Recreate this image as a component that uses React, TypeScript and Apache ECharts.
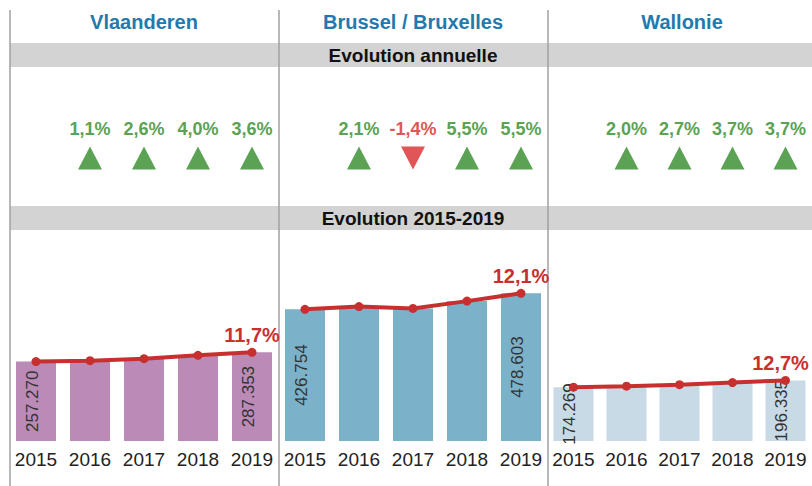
import React, { useEffect, useRef } from "react";
import * as echarts from "echarts";

const regions = ["Vlaanderen", "Brussel / Bruxelles", "Wallonie"];
const years = ["2015", "2016", "2017", "2018", "2019"];
const vlValues = [257270, 260100, 266860, 277540, 287353];
const bxValues = [426754, 435700, 429600, 453200, 478603];
const waValues = [174269, 177750, 182550, 189310, 196335];
const vlGrowth = [1.1, 2.6, 4.0, 3.6];
const bxGrowth = [2.1, -1.4, 5.5, 5.5];
const waGrowth = [2.0, 2.7, 3.7, 3.7];
const totalGrowth = [11.7, 12.1, 12.7];
const sectionTitles = ["Evolution annuelle", "Evolution 2015-2019"];

const barColors = ["#BC8AB6", "#7BB2CA", "#C7DAE6"];
const FONT = "'Liberation Sans', Arial, sans-serif";

const fmtPct = (v: number) => v.toFixed(1).replace(".", ",") + "%";
const fmtNum = (v: number) => {
  const s = Math.round(v).toString();
  return s.replace(/\B(?=(\d{3})+(?!\d))/g, ".");
};

export default function App() {
  const ref = useRef<HTMLDivElement>(null);
  useEffect(() => {
    document.body.style.margin = "0";
    const chart = echarts.init(ref.current!, null, { renderer: "svg" });
    const allValues = [vlValues, bxValues, waValues];
    const allGrowth = [vlGrowth, bxGrowth, waGrowth];
    const panelLeft = [9, 278, 547];
    const panelW = 270;
    const yMax = 648000;

    const grid: any[] = [];
    const xAxis: any[] = [];
    const yAxis: any[] = [];
    const series: any[] = [];

    allValues.forEach((vals, i) => {
      grid.push({ left: panelLeft[i], width: panelW, top: 241, height: 200 });
      grid.push({ left: panelLeft[i], width: panelW, top: 108, height: 100 });
      const gb = i * 2;
      const ga = i * 2 + 1;
      xAxis.push({
        type: "category",
        gridIndex: gb,
        data: years,
        axisLine: { show: false },
        axisTick: { show: false },
        axisLabel: { interval: 0, hideOverlap: false, color: "#222", fontSize: 19, fontFamily: FONT, margin: 9 },
      });
      xAxis.push({ type: "category", gridIndex: ga, data: years, show: false });
      yAxis.push({ type: "value", gridIndex: gb, min: 0, max: yMax, show: false });
      yAxis.push({ type: "value", gridIndex: ga, min: 0, max: 1, show: false });

      series.push({
        type: "bar",
        xAxisIndex: gb,
        yAxisIndex: gb,
        barWidth: 40,
        itemStyle: { color: barColors[i] },
        data: vals.map((v, k) => ({
          value: v,
          label: {
            show: k === 0 || k === vals.length - 1,
            position: "inside",
            rotate: 90,
            offset: [0, -4],
            formatter: () => fmtNum(v),
            color: "#333",
            fontSize: 17,
            fontFamily: FONT,
          },
        })),
      });
      series.push({
        type: "line",
        xAxisIndex: gb,
        yAxisIndex: gb,
        z: 5,
        symbol: "circle",
        symbolSize: 9,
        lineStyle: { color: "#C8302F", width: 4 },
        itemStyle: { color: "#C8302F" },
        data: vals.map((v, k) => ({
          value: v,
          label: {
            show: k === vals.length - 1,
            position: "top",
            distance: 3,
            offset: [i === 2 ? -5 : 0, 0],
            formatter: () => fmtPct(totalGrowth[i]),
            color: "#C8302F",
            fontSize: 20,
            fontWeight: "bold",
            fontFamily: FONT,
          },
        })),
      });
      series.push({
        type: "scatter",
        xAxisIndex: ga,
        yAxisIndex: ga,
        symbol: "triangle",
        symbolSize: [24, 23],
        data: [null, ...allGrowth[i]].map((g) =>
          g === null
            ? null
            : {
                value: 0.5,
                symbolRotate: g < 0 ? 180 : 0,
                itemStyle: { color: g < 0 ? "#E05656" : "#5BA255", opacity: 1 },
                label: {
                  show: true,
                  position: "top",
                  distance: 9,
                  formatter: () => fmtPct(g),
                  color: g < 0 ? "#E05656" : "#5BA255",
                  fontSize: 18,
                  fontWeight: "bold",
                  fontFamily: FONT,
                },
              }
        ),
      });
    });

    const graphic: any[] = [
      { type: "rect", shape: { x: 10, y: 43, width: 802, height: 24 }, style: { fill: "#D3D3D3" }, z: 0 },
      { type: "rect", shape: { x: 10, y: 206, width: 802, height: 24 }, style: { fill: "#D3D3D3" }, z: 0 },
      {
        type: "text",
        x: 413,
        y: 55,
        z: 2,
        style: { text: sectionTitles[0], font: `bold 19px ${FONT}`, fill: "#111", textAlign: "center", textVerticalAlign: "middle" },
      },
      {
        type: "text",
        x: 413,
        y: 218,
        z: 2,
        style: { text: sectionTitles[1], font: `bold 19px ${FONT}`, fill: "#111", textAlign: "center", textVerticalAlign: "middle" },
      },
      ...[10, 279, 548].map((x) => ({
        type: "line",
        z: 3,
        shape: { x1: x, y1: 10, x2: x, y2: 486 },
        style: { stroke: "#A0A0A0", lineWidth: 1.5 },
      })),
      ...regions.map((r, i) => ({
        type: "text",
        x: [144, 413, 682][i],
        y: 22,
        z: 2,
        style: { text: r, font: `bold 20px ${FONT}`, fill: "#1F7AAE", textAlign: "center", textVerticalAlign: "middle" },
      })),
    ];

    chart.setOption({ animation: false, grid, xAxis, yAxis, series, graphic });
    return () => chart.dispose();
  }, []);
  return <div ref={ref} style={{ position: "absolute", left: 0, top: 0, width: 812, height: 486 }} />;
}
